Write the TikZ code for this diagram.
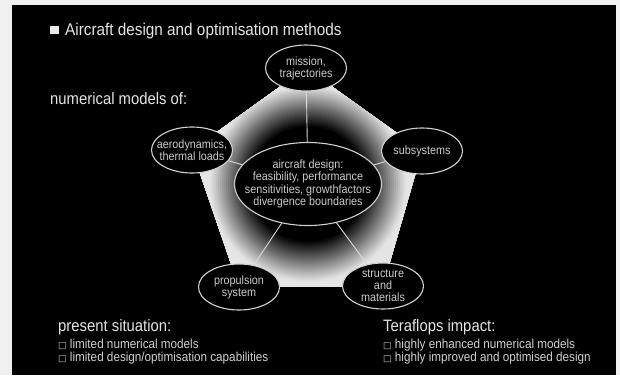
\documentclass[tikz,border=0pt]{standalone}
\usepackage{fontspec}
\setmainfont{Liberation Sans}[FakeStretch=0.9]
\newfontfamily\symfont{DejaVu Sans}
\usepackage{xcolor}
\usepackage{tikz}
\usetikzlibrary{shapes.geometric}

\definecolor{ink}{gray}{0.80}
\definecolor{paper}{gray}{0.94}
\newcommand{\tick}{{\symfont\fontsize{9}{9}\selectfont □}\ }

\begin{document}
\begin{tikzpicture}[
    x=1pt, y=-1pt,
    topic/.style={ellipse, draw=white!82!black, line width=1.1pt, fill=black,
                  minimum width=81pt, minimum height=46pt, inner sep=0pt},
    core/.style={topic, minimum width=147pt, minimum height=83pt},
    inside/.style={text=ink, align=center, inner sep=0pt,
                   font=\fontsize{12}{12}\selectfont},
    spoke/.style={draw=white!85!black, line width=0.9pt},
    heading/.style={anchor=base west, inner sep=0pt, text=white!90!black,
                    font=\fontsize{16.5}{16.5}\selectfont},
    item/.style={anchor=base west, inner sep=0pt, text=white!82!black,
                 font=\fontsize{13}{13}\selectfont}
]
% --- Frame ---
\fill[paper] (0,0) rectangle (620,375);
\fill[black] (12,5) rectangle (616,375);
\useasboundingbox (0,0) rectangle (620,375);

% --- Pentagon corners ---
\coordinate (pM) at (306,68);
\coordinate (pS) at (422,151);
\coordinate (pT) at (383,286);
\coordinate (pP) at (239,287);
\coordinate (pA) at (192,150);
\coordinate (pC) at (308,184);

% --- Shaded pentagon: rings from white (outside) to black (inside) ---
\begin{scope}
  \clip (pM) -- (pS) -- (pT) -- (pP) -- (pA) -- cycle;
  \foreach \r in {140,138,...,56}{
    \pgfmathsetmacro\g{min(90,max(0,(\r-58)*2.2))}
    \fill[white!\g!black] (pC) circle (\r pt);
  }
\end{scope}

% --- Ellipses ---
\node[topic, label={[inside]center:{mission,\\trajectories}}] (mission) at (pM) {};
\node[topic, label={[inside]center:{subsystems}}] (subsys) at (pS) {};
\node[topic, label={[inside]center:{structure\\and\\materials}}] (struct) at (pT) {};
\node[topic, label={[inside]center:{propulsion\\system}}] (prop) at (pP) {};
\node[topic, label={[inside]center:{aerodynamics,\\thermal loads}}] (aero) at (pA) {};
\node[core, label={[inside, font=\fontsize{12}{12.3}\selectfont]center:{aircraft design:\\
  feasibility, performance\\sensitivities, growthfactors\\divergence boundaries}}] (design) at (pC) {};

% --- Spokes ---
\foreach \n in {mission,subsys,struct,prop,aero}
  \draw[spoke] (design) -- (\n);

% --- Title ---
\node[fill=white!92!black, minimum size=8.5pt, inner sep=0pt] (bullet) at (54.5,30) {};
\node[heading, font=\fontsize{17}{17}\selectfont] (title) at (65,35)
  {Aircraft design and optimisation methods};
\node[heading] (models) at (50,104) {numerical models of:};

% --- Bottom lists ---
\node[heading] (now) at (58,331) {present situation:};
\node[item] (nowA) at (58,348) {\tick limited numerical models};
\node[item] (nowB) at (58,361) {\tick limited design/optimisation capabilities};
\node[heading] (tera) at (383,331) {Teraflops impact:};
\node[item] (teraA) at (383,348) {\tick highly enhanced numerical models};
\node[item] (teraB) at (383,361) {\tick highly improved and optimised design};
\end{tikzpicture}
\end{document}
